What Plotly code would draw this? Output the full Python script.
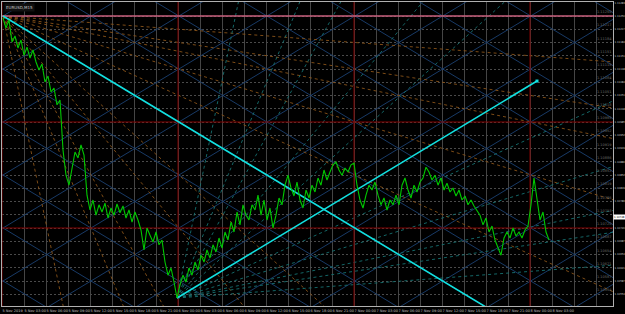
import plotly.graph_objects as go

# ---------------- data ----------------
symbol = "EURUSD,M15"

close = [
    1.11245, 1.11220, 1.11240, 1.11185, 1.11200, 1.11170, 1.11190, 1.11152, 1.11172, 1.11145,
    1.11165, 1.11135, 1.11115, 1.11130, 1.11085, 1.11100, 1.11060, 1.11070, 1.11028, 1.11040,
    1.10915, 1.10852, 1.10827, 1.10865, 1.10910, 1.10895, 1.10928, 1.10902, 1.10802, 1.10765,
    1.10790, 1.10752, 1.10778, 1.10760, 1.10782, 1.10745, 1.10770, 1.10752, 1.10780, 1.10758,
    1.10775, 1.10745, 1.10765, 1.10735, 1.10760, 1.10740, 1.10715, 1.10665, 1.10720, 1.10702,
    1.10685, 1.10710, 1.10678, 1.10690, 1.10635, 1.10602, 1.10620, 1.10585, 1.10545, 1.10578,
    1.10602, 1.10585, 1.10620, 1.10602, 1.10635, 1.10615, 1.10652, 1.10635, 1.10665, 1.10645,
    1.10678, 1.10660, 1.10695, 1.10670, 1.10710, 1.10690, 1.10735, 1.10710, 1.10760, 1.10728,
    1.10778, 1.10752, 1.10740, 1.10778, 1.10765, 1.10802, 1.10752, 1.10790, 1.10740, 1.10770,
    1.10720, 1.10752, 1.10795, 1.10778, 1.10827, 1.10852, 1.10820, 1.10800, 1.10835, 1.10790,
    1.10770, 1.10815, 1.10795, 1.10827, 1.10810, 1.10845, 1.10827, 1.10865, 1.10840, 1.10860,
    1.10878, 1.10885, 1.10865, 1.10852, 1.10870, 1.10860, 1.10878, 1.10882, 1.10827, 1.10790,
    1.10770, 1.10802, 1.10827, 1.10815, 1.10835, 1.10802, 1.10778, 1.10795, 1.10765, 1.10790,
    1.10778, 1.10802, 1.10778, 1.10827, 1.10845, 1.10815, 1.10795, 1.10827, 1.10810, 1.10835,
    1.10845, 1.10872, 1.10860, 1.10840, 1.10852, 1.10827, 1.10845, 1.10815, 1.10832, 1.10810,
    1.10820, 1.10800, 1.10815, 1.10790, 1.10800, 1.10778, 1.10790, 1.10775, 1.10765, 1.10752,
    1.10728, 1.10745, 1.10710, 1.10725, 1.10690, 1.10670, 1.10652, 1.10695, 1.10710, 1.10695,
    1.10720, 1.10700, 1.10710, 1.10695, 1.10715, 1.10725, 1.10778, 1.10845, 1.10790, 1.10740,
    1.10760, 1.10710, 1.10690,
]
bars = list(range(len(close)))

time_labels = [
    "5 Nov 2019", "5 Nov 03:00", "5 Nov 06:00", "5 Nov 09:00", "5 Nov 12:00", "5 Nov 15:00", "5 Nov 18:00", "5 Nov 21:00",
    "6 Nov 00:00", "6 Nov 03:00", "6 Nov 06:00", "6 Nov 09:00", "6 Nov 12:00", "6 Nov 15:00", "6 Nov 18:00", "6 Nov 21:00",
    "7 Nov 00:00", "7 Nov 03:00", "7 Nov 06:00", "7 Nov 09:00", "7 Nov 12:00", "7 Nov 15:00", "7 Nov 18:00", "7 Nov 21:00",
    "8 Nov 00:00", "8 Nov 03:00", "", "",
]
separator_every = 8          # day separators (every 8th time label)

# Gann objects
gann_origin_bar = 0
gann_origin_price = 1.11250  # high
gann_scale = 0.0000452       # price per bar for the 1x1 line
gann_cell = 0.001325         # lattice spacing in price
fan_ratios = [1/8, 1/4, 1/3, 1/2, 3/4, 1.5, 2, 3, 4, 8]
trend_len_bars = 120
bid_label_price = 1.10748

# price scale
price_step = 0.00033125
price_top = 1.11285
price_bottom = 1.10525

# ---------------- layout helpers ----------------
W, H = 625, 314
ML, MR, MT, MB = 2, 12, 2, 8
px_per_bar = 3.0
x0 = -1.0 / 3
x1 = x0 + (W - ML - MR) / px_per_bar
label_step_bars = 22.0 / px_per_bar
tickvals_x = [x0 + k * label_step_bars for k in range(len(time_labels))]

# price scale ticks (label hidden where the bid box sits, as the terminal does)
price_ticks = []
k = -1
while gann_origin_price - k * price_step >= price_bottom:
    price_ticks.append(gann_origin_price - k * price_step)
    k += 1
price_ticktext = ["" if abs(p - bid_label_price) < price_step / 2 else f"{p:.5f}" for p in price_ticks]

low_price = min(close)
low_bar = close.index(low_price)

fig = go.Figure()

def add_lines(segments, color, width, dash="solid"):
    xs, ys = [], []
    for (xa, ya, xb, yb) in segments:
        xs += [xa, xb, None]
        ys += [ya, yb, None]
    fig.add_trace(go.Scatter(x=xs, y=ys, mode="lines", hoverinfo="skip",
                             line=dict(color=color, width=width, dash=dash)))

# Gann lattice (blue)
lat = []
for k in range(-18, 19):
    pa = gann_origin_price + k * gann_cell
    lat.append((x0, pa - gann_scale * (x0 - gann_origin_bar), x1, pa - gann_scale * (x1 - gann_origin_bar)))
    lat.append((x0, pa + gann_scale * (x0 - gann_origin_bar), x1, pa + gann_scale * (x1 - gann_origin_bar)))
add_lines(lat, "#1b4172", 0.9)

# Fans
ofan = [(gann_origin_bar, gann_origin_price, x1,
         gann_origin_price - gann_scale * r * (x1 - gann_origin_bar)) for r in fan_ratios]
add_lines(ofan, "#8a5418", 0.9, "dot")
tfan = [(low_bar, low_price, x1, low_price + gann_scale * r * (x1 - low_bar)) for r in fan_ratios]
add_lines(tfan, "#167272", 0.9, "dot")

# separators (dark red)
sep = []
for k in range(0, len(tickvals_x), separator_every):
    sep.append((tickvals_x[k], price_bottom, tickvals_x[k], price_top))
for k in (8, 16):
    p = gann_origin_price - k * price_step
    sep.append((x0, p, x1, p))
add_lines(sep, "#820000", 1)

# high line (pink)
add_lines([(x0, gann_origin_price, x1, gann_origin_price)], "#c8607e", 1.5)

# cyan 1x1 lines
cy = [
    (gann_origin_bar, gann_origin_price, x1, gann_origin_price - gann_scale * (x1 - gann_origin_bar)),
    (low_bar, low_price, low_bar + trend_len_bars, low_price + gann_scale * trend_len_bars),
]
add_lines(cy, "#12e0e0", 1.6)
fig.add_trace(go.Scatter(x=[low_bar + trend_len_bars], y=[low_price + gann_scale * trend_len_bars],
                         mode="markers", marker=dict(color="#12e0e0", size=3, symbol="square"),
                         hoverinfo="skip"))

# price line
fig.add_trace(go.Scatter(x=bars, y=close, mode="lines", hoverinfo="skip",
                         line=dict(color="#00c800", width=1.1)))

annotations = []
# object labels near right edge
for p in price_ticks[1:]:
    annotations.append(dict(x=x0 + 593 / px_per_bar, y=p, xref="x", yref="y",
                            text=f"{p:.5f}", showarrow=False, xanchor="left", yanchor="bottom",
                            font=dict(size=3.5, color="#6a6a6a", family="DejaVu Sans")))
# title
annotations.append(dict(x=0.004, y=0.997, xref="paper", yref="paper", text=symbol, showarrow=False,
                        xanchor="left", yanchor="top", bgcolor="#101010",
                        font=dict(size=4, color="#c0c0c0", family="DejaVu Sans")))
# bid label
annotations.append(dict(x=1.0, y=bid_label_price, xref="paper", yref="y", text=f"{bid_label_price:.5f}",
                        showarrow=False, xanchor="left", yanchor="middle", bgcolor="#ffffff",
                        font=dict(size=2.8, color="#000000", family="DejaVu Sans Condensed"), borderpad=0))

fig.update_layout(
    width=W, height=H,
    margin=dict(l=ML, r=MR, t=MT, b=MB, autoexpand=False),
    paper_bgcolor="#000000", plot_bgcolor="#000000",
    showlegend=False,
    annotations=annotations,
    xaxis=dict(range=[x0, x1], tickmode="array", tickvals=tickvals_x, ticktext=time_labels,
               showgrid=True, gridcolor="#454545", griddash="solid", gridwidth=1, automargin=False,
               zeroline=False, showline=True, linecolor="#b0b0b0", mirror=True,
               ticks="", ticklabelposition="outside right", tickangle=0, ticklabelstandoff=1,
               tickfont=dict(size=3.5, color="#c0c0c0", family="DejaVu Sans")),
    yaxis=dict(range=[price_bottom, price_top], side="right", tickmode="array",
               tickvals=price_ticks, ticktext=price_ticktext, automargin=False,
               showgrid=True, gridcolor="#4a4a4a", griddash="2px,2px", gridwidth=1,
               zeroline=False, showline=True, linecolor="#b0b0b0", mirror=True,
               ticks="", ticklabelstandoff=0,
               tickfont=dict(size=2.8, color="#c0c0c0", family="DejaVu Sans Condensed")),
)

fig.write_html("out.html")
